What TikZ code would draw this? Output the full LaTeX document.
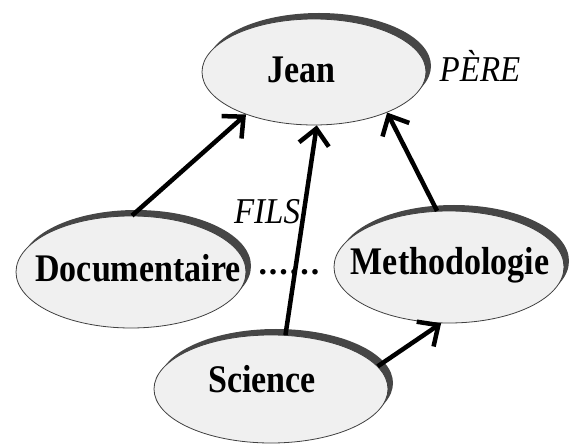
\documentclass[tikz,border=0pt]{standalone}
\usepackage{fontspec}
\usepackage{graphicx}
\setmainfont{Liberation Serif}
\usetikzlibrary{shapes.geometric,arrows.meta,shadows}
\begin{document}
\begin{tikzpicture}[x=1pt,y=-1pt,
  concept/.style={ellipse, minimum width=#1, minimum height=112pt, inner sep=0pt,
    draw=gray!50!black, line width=0.8pt, fill=gray!12,
    drop shadow={shadow xshift=5pt, shadow yshift=6pt, fill=gray!55!black, opacity=1}},
  concept/.default=230pt,
  word/.style={font=\fontsize{34}{36}\selectfont\bfseries, inner sep=0pt},
  lab/.style={font=\fontsize{33}{35}\selectfont\itshape, inner sep=0pt},
  rel/.style={line width=4.5pt, -{Straight Barb[length=16pt,width=30pt,line width=4.5pt]}}]
\useasboundingbox (0,0) rectangle (581,446);
\node[concept=224pt, minimum height=106pt] (jean) at (314,72) {};
\node[concept] (doc) at (131,272) {};
\node[concept] (meth) at (449,267) {};
\node[concept=234pt, minimum height=108pt] (sci) at (271,389) {};
\node[word] (jeant) at (301,70) {\scalebox{1}[1.15]{Jean}};
\node[word] (doct) at (138,268) {\scalebox{1}[1.15]{Documentaire}};
\node[word] (metht) at (450,265) {\scalebox{1}[1.15]{Methodologie}};
\node[word] (scit) at (262,379) {\scalebox{1}[1.15]{Science}};
\node[lab] (pere) at (480,66) {\scalebox{1}[1.1]{PÈRE}};
\node[lab] (fils) at (267,212) {\scalebox{1}[1.1]{FILS}};
\node[font=\fontsize{34}{36}\selectfont\bfseries, inner sep=0pt] (dots) at (289,272) {.\kern2pt.\kern2pt.\kern2pt.\kern2pt.\kern2pt.};
\draw[rel] (doc.89) -- (jean.212);
\draw[rel] (sci.75) -- (jean.273);
\draw[rel] (meth.102) -- (jean.331);
\draw[rel] (sci.12) -- (meth.262);
\end{tikzpicture}
\end{document}
